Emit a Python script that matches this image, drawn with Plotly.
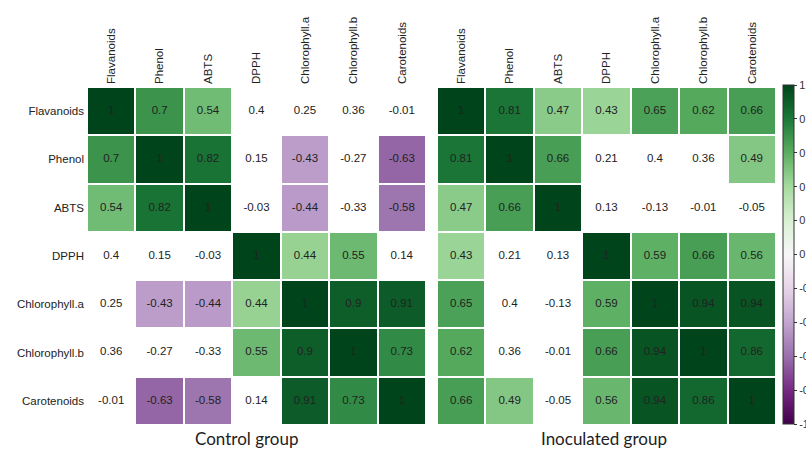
import numpy as np
import plotly.graph_objects as go

# Variables (row / column order of both correlation matrices)
variables = ["Flavanoids", "Phenol", "ABTS", "DPPH",
             "Chlorophyll.a", "Chlorophyll.b", "Carotenoids"]

# Pearson correlations, control group
control_r = [
    [1, 0.7, 0.54, 0.4, 0.25, 0.36, -0.01],
    [0.7, 1, 0.82, 0.15, -0.43, -0.27, -0.63],
    [0.54, 0.82, 1, -0.03, -0.44, -0.33, -0.58],
    [0.4, 0.15, -0.03, 1, 0.44, 0.55, 0.14],
    [0.25, -0.43, -0.44, 0.44, 1, 0.9, 0.91],
    [0.36, -0.27, -0.33, 0.55, 0.9, 1, 0.73],
    [-0.01, -0.63, -0.58, 0.14, 0.91, 0.73, 1],
]

# Pearson correlations, inoculated group
inoculated_r = [
    [1, 0.81, 0.47, 0.43, 0.65, 0.62, 0.66],
    [0.81, 1, 0.66, 0.21, 0.4, 0.36, 0.49],
    [0.47, 0.66, 1, 0.13, -0.13, -0.01, -0.05],
    [0.43, 0.21, 0.13, 1, 0.59, 0.66, 0.56],
    [0.65, 0.4, -0.13, 0.59, 1, 0.94, 0.94],
    [0.62, 0.36, -0.01, 0.66, 0.94, 1, 0.86],
    [0.66, 0.49, -0.05, 0.56, 0.94, 0.86, 1],
]

group_titles = ["Control group", "Inoculated group"]

# Cells below this |r| are not significant and are left uncoloured
SIG_THRESHOLD = 0.42

colorbar_ticks = [-1, -0.8, -0.6, -0.4, -0.2, 0, 0.2, 0.4, 0.6, 0.8, 1]

W, H = 806, 452
LABEL_FONT = "Liberation Sans, Arial, sans-serif"


def px_x(p):
    return p / W


def px_y(p):
    return 1 - p / H


def fmt(v):
    return f"{v:g}"


fig = go.Figure()

panels = [
    (control_r, "x", "y", False),
    (inoculated_r, "x2", "y2", True),
]

for mat, xa, ya, show_cb in panels:
    r = np.array(mat, dtype=float)
    z = np.where(np.abs(r) >= SIG_THRESHOLD, r, np.nan)
    fig.add_trace(go.Heatmap(
        z=z, x=variables, y=variables,
        xaxis=xa, yaxis=ya,
        zmin=-1, zmax=1, colorscale="PRGn",
        xgap=2, ygap=2, hoverongaps=False,
        showscale=show_cb,
        colorbar=dict(
            x=px_x(783), xanchor="left", xpad=0,
            y=px_y(254.5), yanchor="middle", ypad=0,
            lenmode="pixels", len=339, thickness=11,
            outlinewidth=1, outlinecolor="#333",
            tickvals=colorbar_ticks,
            ticktext=[fmt(t) for t in colorbar_ticks],
            ticks="outside", ticklen=3, tickcolor="#333",
            tickfont=dict(family=LABEL_FONT, size=11, color="#333"),
        ),
    ))
    # correlation values printed in every cell
    xs, ys, txt = [], [], []
    for i, row_name in enumerate(variables):
        for j, col_name in enumerate(variables):
            xs.append(col_name)
            ys.append(row_name)
            txt.append(fmt(mat[i][j]))
    fig.add_trace(go.Scatter(
        x=xs, y=ys, text=txt, mode="text",
        xaxis=xa, yaxis=ya,
        textfont=dict(family=LABEL_FONT, size=11.5, color="#222"),
        hoverinfo="skip", showlegend=False,
    ))

x_common = dict(
    side="top", tickangle=-90, showgrid=False, zeroline=False,
    ticks="", showline=False, type="category",
    tickfont=dict(family=LABEL_FONT, size=11.5, color="#222"),
    ticklabelstandoff=2, fixedrange=True,
)
y_domain = [px_y(425), px_y(87)]

title_font = dict(family="Lato, sans-serif", size=17, color="#222")

fig.update_layout(
    width=W, height=H,
    margin=dict(l=0, r=0, t=0, b=0, autoexpand=False),
    paper_bgcolor="white", plot_bgcolor="white",
    showlegend=False,
    xaxis=dict(domain=[px_x(87), px_x(426)], anchor="y", **x_common),
    xaxis2=dict(domain=[px_x(437), px_x(776)], anchor="y2", **x_common),
    yaxis=dict(domain=y_domain, anchor="x", autorange="reversed",
               type="category", showgrid=False, zeroline=False, ticks="",
               tickfont=dict(family=LABEL_FONT, size=11.5, color="#222"),
               ticklabelstandoff=2),
    yaxis2=dict(domain=y_domain, anchor="x2", autorange="reversed",
                type="category", showgrid=False, zeroline=False,
                showticklabels=False, ticks=""),
    annotations=[
        dict(text=group_titles[0], x=px_x(246), y=px_y(451),
             xref="paper", yref="paper", showarrow=False,
             xanchor="center", yanchor="bottom", font=title_font),
        dict(text=group_titles[1], x=px_x(604), y=px_y(451),
             xref="paper", yref="paper", showarrow=False,
             xanchor="center", yanchor="bottom", font=title_font),
    ],
)

fig.write_html("out.html")
